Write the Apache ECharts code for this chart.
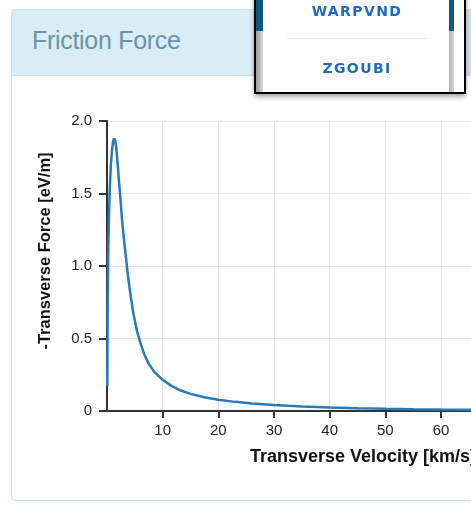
<!DOCTYPE html>
<html>
<head>
<meta charset="utf-8">
<script src="https://cdn.jsdelivr.net/npm/echarts@6/dist/echarts.min.js"></script>
<style>
  html, body { margin: 0; padding: 0; width: 471px; height: 505px; overflow: hidden; background: #fff; font-family: "Liberation Sans", Arial, sans-serif; }
  #panel { position: absolute; left: 11px; top: 9px; width: 520px; height: 492px; border: 1px solid #bce8f1; border-radius: 4px; background: #fff; box-sizing: border-box; z-index: 0; }
  #heading { position: absolute; left: 0; top: 0; right: 0; height: 65px; background: #d9edf7; border-bottom: 1px solid #bce8f1; border-radius: 3px 3px 0 0; }
  #title { position: absolute; left: 20px; top: 16px; font-size: 25px; color: #6b93aa; letter-spacing: -0.3px; }
  #chart { position: absolute; left: 0; top: 0; width: 620px; height: 505px; z-index: 1; }
  #menu { position: absolute; left: 254px; top: -10px; width: 212px; height: 104px; border: 2.5px solid #000; box-sizing: border-box; background: #fff; z-index: 3; box-shadow: 0 3px 5px rgba(0,0,0,0.35); }
  .strip { position: absolute; top: 0; bottom: 0; width: 7px; background: linear-gradient(to right, #9a9a9a, #d8d8d8); }
  .strip .dark { position: absolute; left: 0; right: 0; top: 0; height: 39px; background: #0d5a7e; }
  #sL { left: 0; }
  #sR { right: 10px; width: 5px; background: linear-gradient(to right, #b0b0b0, #d8d8d8); }
  .item { position: absolute; left: 9px; right: 15px; text-align: center; font-family: "DejaVu Sans", sans-serif; font-weight: bold; font-size: 14px; letter-spacing: 1.4px; color: #1c6bc0; }
  #i1 { top: 11px; }
  #i2 { top: 68px; }
  #sep { position: absolute; left: 31px; width: 140px; top: 46px; height: 1px; background: #e6e6e6; }
  #rightbit { position: absolute; left: 466px; top: 9px; width: 10px; height: 66px; background: #cfe3ee; z-index: 2; }
</style>
</head>
<body>
<div id="panel"><div id="heading"><div id="title">Friction Force</div></div></div>
<div id="chart"></div>
<div id="rightbit"></div>
<div id="menu">
  <div class="strip" id="sL"><div class="dark"></div></div>
  <div class="strip" id="sR"><div class="dark"></div></div>
  <div class="item" id="i1">WARPVND</div>
  <div id="sep"></div>
  <div class="item" id="i2">ZGOUBI</div>
</div>
<script>
// Transverse velocity [km/s]
var velocity = [0.05, 0.08, 0.12, 0.18, 0.25, 0.35, 0.5, 0.7, 0.9, 1.1, 1.3, 1.5, 1.7, 1.9, 2.1, 2.4, 2.7, 3.0, 3.4, 3.8, 4.3, 4.8, 5.4, 6.0, 6.7, 7.5, 8.5, 10, 11.5, 13, 15, 17.5, 20, 23, 26, 30, 35, 40, 45, 50, 55, 60, 65, 70, 80, 90];
// -Transverse force [eV/m]
var force = [0.17, 0.4, 0.7, 0.95, 1.15, 1.33, 1.53, 1.70, 1.80, 1.86, 1.88, 1.86, 1.80, 1.71, 1.61, 1.47, 1.32, 1.20, 1.06, 0.92, 0.78, 0.66, 0.55, 0.47, 0.39, 0.325, 0.27, 0.215, 0.175, 0.145, 0.118, 0.095, 0.078, 0.063, 0.052, 0.041, 0.031, 0.024, 0.019, 0.015, 0.012, 0.0095, 0.008, 0.0065, 0.005, 0.004];
var yTicks = [0, 0.5, 1.0, 1.5, 2.0];

var points = velocity.map(function (v, i) { return [v, force[i]]; });

var chart = echarts.init(document.getElementById('chart'), null, { renderer: 'canvas' });
chart.setOption({
  backgroundColor: 'transparent',
  animation: false,
  grid: { left: 107, right: 12, top: 121, bottom: 94 },
  xAxis: {
    type: 'value', min: 0, max: 90, interval: 10,
    name: 'Transverse Velocity [km/s]', nameLocation: 'middle', nameGap: 37,
    nameTextStyle: { fontFamily: 'Liberation Sans', fontWeight: 'bold', fontSize: 18, color: '#111', padding: [0, 0, 0, 11] },
    axisLine: { show: true, onZero: false, lineStyle: { color: '#333', width: 2 } },
    axisTick: { show: true, length: 7, lineStyle: { color: '#333', width: 2 } },
    axisLabel: { showMinLabel: false, fontFamily: 'Liberation Sans', fontSize: 15, color: '#222', margin: 12 },
    splitLine: { show: true, lineStyle: { color: '#e6e6e6', width: 1 } }
  },
  yAxis: {
    type: 'value', min: yTicks[0], max: yTicks[yTicks.length - 1], interval: 0.5,
    name: '-Transverse Force [eV/m]', nameLocation: 'middle', nameGap: 53, nameRotate: 90,
    nameTextStyle: { fontFamily: 'Liberation Sans', fontWeight: 'bold', fontSize: 16.5, color: '#111', padding: [0, 0, 0, 30] },
    axisLine: { show: true, lineStyle: { color: '#333', width: 2 } },
    axisTick: { show: true, length: 8, lineStyle: { color: '#333', width: 2 } },
    axisLabel: { fontFamily: 'Liberation Sans', fontSize: 15, color: '#222', margin: 15,
      formatter: function (v) { return v === 0 ? '0' : v.toFixed(1); } },
    splitLine: { show: true, lineStyle: { color: '#e6e6e6', width: 1 } }
  },
  series: [{
    type: 'line', data: points, showSymbol: false, smooth: false,
    lineStyle: { color: '#2878ba', width: 2.5 }, z: 5
  }]
});
</script>
</body>
</html>
